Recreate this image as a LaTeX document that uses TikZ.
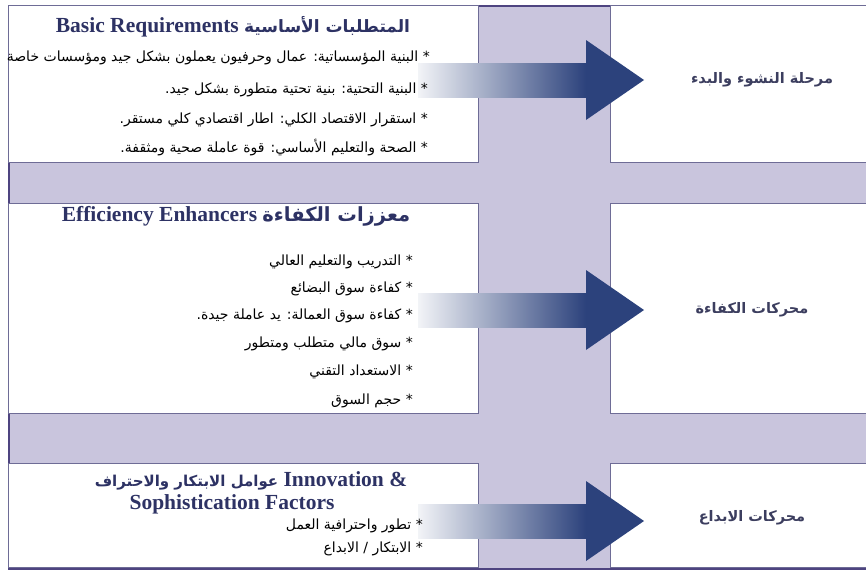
\documentclass[tikz,border=0pt]{standalone}
\usepackage{fontspec}
\setmainfont{Liberation Serif}
\newfontfamily\arabicfont[Script=Arabic]{DejaVu Sans}
\TeXXeTstate=1
\usetikzlibrary{calc}

\definecolor{bandfill}{RGB}{201,197,221}
\definecolor{frameline}{RGB}{78,68,128}
\definecolor{boxline}{RGB}{110,108,150}
\definecolor{titleblue}{RGB}{45,50,100}
\definecolor{arrowblue}{RGB}{44,66,124}
\definecolor{stagegray}{RGB}{60,62,95}

\newcommand{\stagearrow}[2]{%
	\shade[left color=arrowblue!6, right color=arrowblue] ($(#1)+(0,-17)$) rectangle ($(#2)+(-58,17)$);
	\fill[arrowblue] ($(#2)+(-58,-40)$) -- (#2) -- ($(#2)+(-58,40)$) -- cycle;}
\newcommand{\arbold}[1]{\fontsize{#1}{#1}\arabicfont\bfseries}

\begin{document}
\begin{tikzpicture}
	[x=1pt, y=-1pt, inner sep=0pt,
	frame/.style	= {rectangle, draw=frameline, fill=bandfill, line width=1.6pt, anchor=north west},
	reqbox/.style	= {rectangle, draw=boxline, fill=white, line width=0.8pt, minimum width=470pt, anchor=north west},
	stagebox/.style	= {rectangle, draw=boxline, fill=white, line width=0.8pt, minimum width=262pt, anchor=north west},
	title/.style	= {text=titleblue, font=\fontsize{21.5}{24}\selectfont\bfseries},
	bullet/.style	= {anchor=east, font=\fontsize{14}{16}\arabicfont},
	stage/.style	= {text=stagegray, font=\fontsize{14.5}{16}\arabicfont\bfseries}]

	\useasboundingbox (0,0) rectangle (866,571);
	\clip (0,0) rectangle (866,571);

	\node at (8,5)		[frame, minimum width=870pt, minimum height=563pt]	(frame)	{};

	\node at (8,5)		[reqbox, minimum height=157pt]	(basic)	{};
	\node at (8,203)	[reqbox, minimum height=210pt]	(effic)	{};
	\node at (8,463)	[reqbox, minimum height=104pt]	(innov)	{};

	\node at (610,5)	[stagebox, minimum height=157pt]	(st1)	{};
	\node at (610,203)	[stagebox, minimum height=210pt]	(st2)	{};
	\node at (610,463)	[stagebox, minimum height=104pt]	(st3)	{};

	\coordinate (tail1) at (418,80);	\coordinate (tip1) at (644,80);
	\coordinate (tail2) at (418,310);	\coordinate (tip2) at (644,310);
	\coordinate (tail3) at (418,521);	\coordinate (tip3) at (644,521);
	\stagearrow{tail1}{tip1}
	\stagearrow{tail2}{tip2}
	\stagearrow{tail3}{tip3}

	\node at (233,27)	[title]	(basict)	{Basic Requirements {\arbold{17}\beginR المتطلبات الأساسية\endR}};
	\node at (236,216)	[title]	(effict)	{Efficiency Enhancers {\arbold{19.5}\beginR معززات الكفاءة\endR}};
	\node at (251,481)	[title]	(innovt)	{{\arbold{15}\beginR عوامل الابتكار والاحتراف\endR} Innovation \&};
	\node at (232,504)	[title]	(innovt2)	{Sophistication Factors};

	\node at (430,58)	[bullet]	(b1)	{\beginR * البنية المؤسساتية: عمال وحرفيون يعملون بشكل جيد ومؤسسات خاصة\endR};
	\node at (428,90)	[bullet]	(b2)	{\beginR * البنية التحتية: بنية تحتية متطورة بشكل جيد.\endR};
	\node at (428,120)	[bullet]	(b3)	{\beginR * استقرار الاقتصاد الكلي: اطار اقتصادي كلي مستقر.\endR};
	\node at (428,148)	[bullet]	(b4)	{\beginR * الصحة والتعليم الأساسي: قوة عاملة صحية ومثقفة.\endR};

	\node at (413,262)	[bullet]	(e1)	{\beginR * التدريب والتعليم العالي\endR};
	\node at (413,289)	[bullet]	(e2)	{\beginR * كفاءة سوق البضائع\endR};
	\node at (413,316)	[bullet]	(e3)	{\beginR * كفاءة سوق العمالة: يد عاملة جيدة.\endR};
	\node at (413,344)	[bullet]	(e4)	{\beginR * سوق مالي متطلب ومتطور\endR};
	\node at (413,372)	[bullet]	(e5)	{\beginR * الاستعداد التقني\endR};
	\node at (413,401)	[bullet]	(e6)	{\beginR * حجم السوق\endR};

	\node at (423,526)	[bullet]	(i1)	{\beginR * تطور واحترافية العمل\endR};
	\node at (423,549)	[bullet]	(i2)	{\beginR * الابتكار / الابداع\endR};

	\node at (762,80)	[stage]	(s1)	{\beginR مرحلة النشوء والبدء\endR};
	\node at (752,310)	[stage]	(s2)	{\beginR محركات الكفاءة\endR};
	\node at (752,518)	[stage]	(s3)	{\beginR محركات الابداع\endR};
\end{tikzpicture}
\end{document}
